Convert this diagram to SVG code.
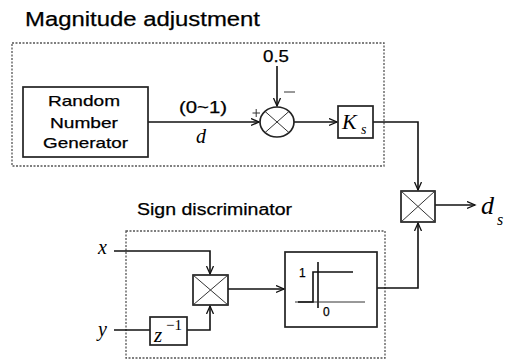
<svg xmlns="http://www.w3.org/2000/svg" width="512" height="361" viewBox="0 0 512 361">
<defs>
<style>
.bg{fill:#fff}
.frame{fill:none;stroke:#555;stroke-width:1.3;stroke-dasharray:2 1.5}
.blk{fill:#fff;stroke:#222;stroke-width:1.7}
.ln{fill:none;stroke:#111;stroke-width:1.6}
.thin{fill:none;stroke:#333;stroke-width:1}
.sans{font-family:"Liberation Sans",Arial,sans-serif;fill:#000;stroke:#000;stroke-width:0.25}
.math{font-family:"Liberation Serif","Times New Roman",serif;font-style:italic;fill:#000}
.num{font-family:"Liberation Serif","Times New Roman",serif;fill:#000}
</style>
<marker id="arr" markerUnits="userSpaceOnUse" markerWidth="10" markerHeight="9" refX="8" refY="4" orient="auto">
<path d="M0,0.5 L8,4 L0,7.5" fill="none" stroke="#111" stroke-width="1.3"/>
</marker>
</defs>
<rect class="bg" x="0" y="0" width="512" height="361"/>

<g id="magnitude-frame">
<rect class="frame" x="12" y="43" width="372" height="123"/>
<text class="sans" x="25" y="26" font-size="20" textLength="235" lengthAdjust="spacingAndGlyphs">Magnitude adjustment</text>
</g>

<g id="sign-frame">
<rect class="frame" x="126" y="231" width="259" height="127"/>
<text class="sans" x="137" y="215" font-size="16" textLength="155" lengthAdjust="spacingAndGlyphs">Sign discriminator</text>
</g>

<g id="connectors">
<path class="ln" d="M148,122 H259" marker-end="url(#arr)"/>
<path class="ln" d="M277,66 V106" marker-end="url(#arr)"/>
<path class="ln" d="M294,122 H337" marker-end="url(#arr)"/>
<path class="ln" d="M373,122 H418 V190" marker-end="url(#arr)"/>
<path class="ln" d="M114,251 H210 V274" marker-end="url(#arr)"/>
<path class="ln" d="M114,330 H150"/>
<path class="ln" d="M187,330 H210 V306" marker-end="url(#arr)"/>
<path class="ln" d="M228,289 H284" marker-end="url(#arr)"/>
<path class="ln" d="M377,288 H418 V223" marker-end="url(#arr)"/>
<path class="ln" d="M435,205 H475" marker-end="url(#arr)"/>
</g>

<g id="rng">
<rect class="blk" x="23" y="87" width="125" height="70"/>
<text class="sans" x="48" y="106" font-size="15" textLength="72" lengthAdjust="spacingAndGlyphs">Random</text>
<text class="sans" x="50" y="127.5" font-size="15" textLength="68" lengthAdjust="spacingAndGlyphs">Number</text>
<text class="sans" x="43" y="148" font-size="15" textLength="85" lengthAdjust="spacingAndGlyphs">Generator</text>
</g>

<g id="labels-d">
<text class="sans" x="179" y="113" font-size="16" textLength="48" lengthAdjust="spacingAndGlyphs">(0~1)</text>
<text class="math" x="196" y="143" font-size="20">d</text>
</g>

<g id="const-05">
<text class="sans" x="263" y="62" font-size="16" textLength="26" lengthAdjust="spacingAndGlyphs">0.5</text>
</g>

<g id="sum">
<ellipse class="blk" cx="277" cy="122" rx="17" ry="15"/>
<path class="thin" d="M265,111.4 L289,132.6 M289,111.4 L265,132.6"/>
<path class="thin" d="M252.5,113 H260 M256.2,109 V117"/>
<path class="thin" d="M284,92 H295"/>
</g>

<g id="gain-ks">
<rect class="blk" x="338" y="106" width="35" height="32"/>
<text class="math" x="342" y="129" font-size="22">K</text>
<text class="math" x="361" y="134" font-size="14">s</text>
</g>

<g id="mult-out">
<rect class="blk" x="401" y="191" width="34" height="31"/>
<path class="thin" d="M401,191 L435,222 M435,191 L401,222"/>
</g>

<g id="output-ds">
<text class="math" x="481" y="214" font-size="26">d</text>
<text class="math" x="497" y="225" font-size="16">s</text>
</g>

<g id="input-x">
<text class="math" x="98" y="254" font-size="20">x</text>
</g>

<g id="input-y">
<text class="math" x="98" y="336" font-size="20">y</text>
</g>

<g id="delay-z">
<rect class="blk" x="150" y="317" width="37" height="28"/>
<text class="math" x="154" y="342" font-size="21">z</text>
<text class="num" x="166" y="330" font-size="15">−1</text>
</g>

<g id="mult-sign">
<rect class="blk" x="193" y="275" width="35" height="30"/>
<path class="thin" d="M193,275 L228,305 M228,275 L193,305"/>
</g>

<g id="sign-block">
<rect class="blk" x="285" y="252" width="92" height="75"/>
<path class="ln" d="M318,262 V308"/>
<path class="thin" d="M295,302 H365"/>
<path class="ln" d="M298,302 H313 V272 H353"/>
<text class="sans" x="299" y="277" font-size="12">1</text>
<text class="sans" x="323" y="316" font-size="12">0</text>
</g>
</svg>
